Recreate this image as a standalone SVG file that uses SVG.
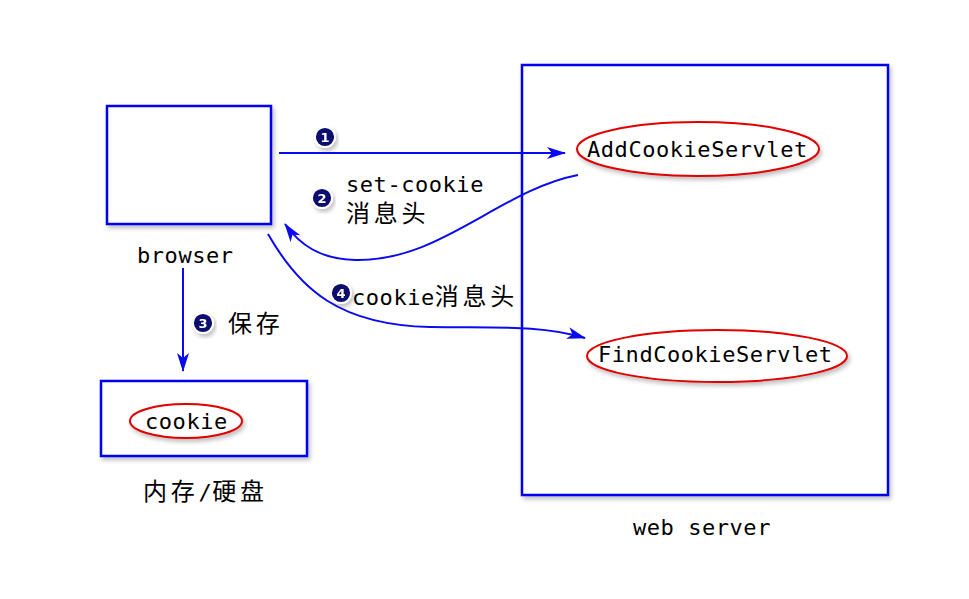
<svg xmlns="http://www.w3.org/2000/svg" width="969" height="599" viewBox="0 0 969 599">
<defs>
<style>
.box{fill:#fff;stroke:#0000f0;stroke-width:2.5}
.ell{fill:#fff;stroke:#e00000;stroke-width:2}
.con{fill:none;stroke:#0a0af0;stroke-width:2}
.t{font-family:"DejaVu Sans Mono","Liberation Mono","Noto Sans CJK SC",monospace;font-size:22px;letter-spacing:0.55px;fill:#000}
.cjk{font-family:"Noto Sans CJK SC",sans-serif;font-size:24px;letter-spacing:3.7px}
.badge circle{fill:#0c0c70;stroke:#fff;stroke-width:1.8}
.badge text{font-family:"DejaVu Sans","Liberation Sans",sans-serif;font-size:13px;font-weight:bold;fill:#fff;text-anchor:middle}
</style>
<filter id="sh" x="-20%" y="-20%" width="140%" height="150%">
<feDropShadow dx="2" dy="3" stdDeviation="2" flood-color="#000" flood-opacity="0.25"/>
</filter>
<marker id="ah" viewBox="0 0 19 12" refX="18" refY="6" markerWidth="19" markerHeight="12" markerUnits="userSpaceOnUse" orient="auto">
<path d="M0,0 L19,6 L0,12 L5,6 Z" fill="#0a0af0"/>
</marker>
</defs>

<g id="browser">
<rect class="box" x="107" y="106" width="164" height="118" filter="url(#sh)"/>
<text class="t" x="137" y="263">browser</text>
</g>

<g id="storage">
<rect class="box" x="101" y="381" width="206" height="75" filter="url(#sh)"/>
<text class="t" x="143" y="500"><tspan class="cjk">内存</tspan>/<tspan class="cjk">硬盘</tspan></text>
</g>

<g id="cookie">
<ellipse class="ell" cx="186" cy="421" rx="56" ry="17" filter="url(#sh)"/>
<text class="t" x="145" y="429">cookie</text>
</g>

<g id="webserver">
<rect class="box" x="522" y="65" width="366" height="430" filter="url(#sh)"/>
<text class="t" x="633" y="535">web server</text>
</g>

<g id="addcookie">
<ellipse class="ell" cx="698" cy="149" rx="121" ry="27" filter="url(#sh)"/>
<text class="t" x="587" y="157">AddCookieServlet</text>
</g>

<g id="findcookie">
<ellipse class="ell" cx="717" cy="356" rx="130" ry="26" filter="url(#sh)"/>
<text class="t" x="598" y="362">FindCookieServlet</text>
</g>

<g id="connectors">
<path class="con" d="M279,153 L565,153" marker-end="url(#ah)"/>
<path class="con" d="M578,175 C500,190 440,262 355,260 C320,259 300,245 285,224" marker-end="url(#ah)"/>
<path class="con" d="M183,268 L183,371" marker-end="url(#ah)"/>
<path class="con" d="M268,234 C300,290 340,325 430,327 C500,328 540,325 585,338" marker-end="url(#ah)"/>
</g>

<g id="labels">
<g class="badge" filter="url(#sh)"><circle cx="325" cy="137" r="10"/><text x="325" y="141.8">1</text></g>
<g class="badge" filter="url(#sh)"><circle cx="322" cy="198" r="10"/><text x="322" y="202.8">2</text></g>
<g class="badge" filter="url(#sh)"><circle cx="203" cy="323" r="10"/><text x="203" y="327.8">3</text></g>
<g class="badge" filter="url(#sh)"><circle cx="341" cy="293" r="10"/><text x="341" y="297.8">4</text></g>
<text class="t" x="346" y="192">set-cookie</text>
<text class="t" x="346" y="222"><tspan class="cjk">消息头</tspan></text>
<text class="t" x="352" y="305">cookie<tspan class="cjk">消息头</tspan></text>
<text class="t" x="228" y="332"><tspan class="cjk">保存</tspan></text>
</g>
</svg>
